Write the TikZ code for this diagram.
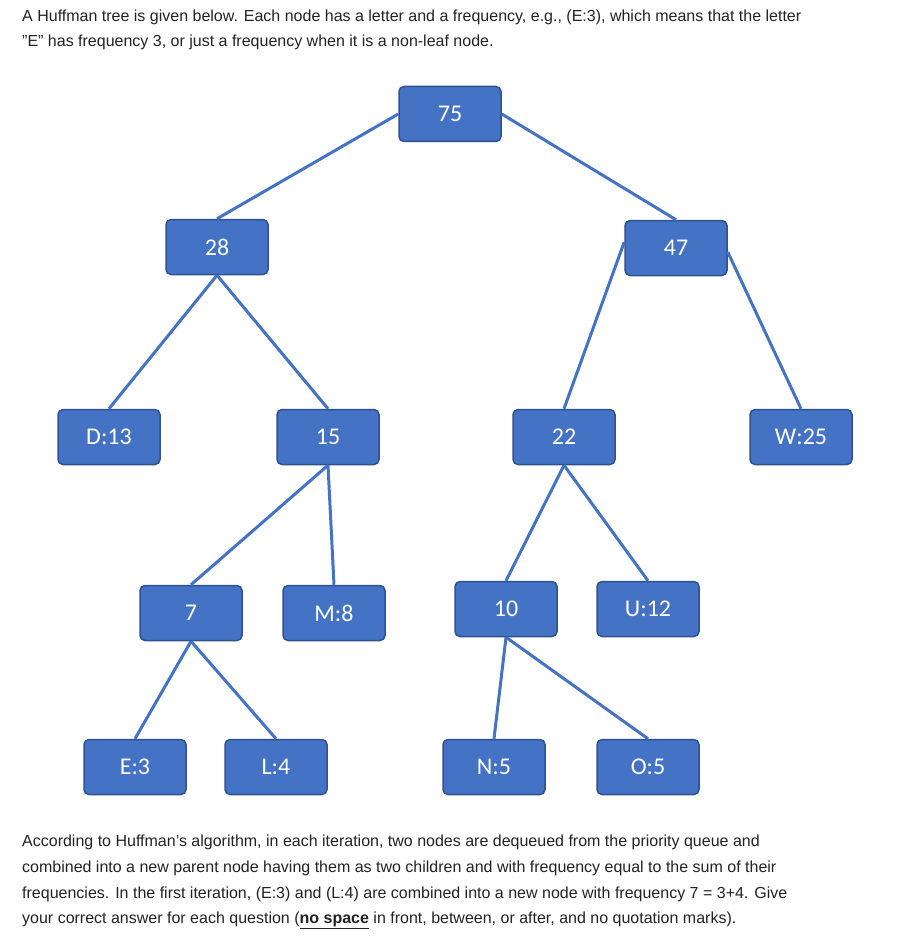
\documentclass[tikz,border=0pt]{standalone}
\usepackage{fontspec}
\setmainfont{Liberation Sans}
\newfontfamily\calib{Carlito}
\definecolor{nfill}{HTML}{4472C4}
\definecolor{nedge}{HTML}{2F528F}
\definecolor{txt}{HTML}{222222}
\begin{document}
\begin{tikzpicture}[x=1pt,y=-1pt,
  tn/.style={draw=nedge,line width=1.5pt,fill=nfill,rounded corners=5pt,minimum width=102pt,minimum height=55pt,inner sep=0pt,text=white,font=\calib\fontsize{24}{24}\selectfont},
  ed/.style={draw=nfill,line width=3pt},
  tl/.style={anchor=west,inner sep=0pt,text=txt,font=\fontsize{16}{16}\selectfont}]
\useasboundingbox (0,0) rectangle (904,944);
\node[tl] (t1) at (22,17) {A Huffman tree is given below. Each node has a letter and a frequency, e.g., (E:3), which means that the letter};
\node[tl] (t2) at (22,42) {"E" has frequency 3, or just a frequency when it is a non-leaf node.};
\node[tl] (b1) at (22,842) {According to Huffman's algorithm, in each iteration, two nodes are dequeued from the priority queue and};
\node[tl] (b2) at (22,868) {combined into a new parent node having them as two children and with frequency equal to the sum of their};
\node[tl] (b3) at (22,894) {frequencies. In the first iteration, (E:3) and (L:4) are combined into a new node with frequency 7 = 3+4. Give};
\node[tl] (b4) at (22,920) {your correct answer for each question (\underline{\textbf{no space}} in front, between, or after, and no quotation marks).};
\node[tn] (n75) at (450,114) {75};
\node[tn] (n28) at (217,247) {28};
\node[tn] (n47) at (676,248) {47};
\node[tn] (nD) at (109,437) {D:13};
\node[tn] (n15) at (328,437) {15};
\node[tn] (n22) at (564,437) {22};
\node[tn] (nW) at (801,437) {W:25};
\node[tn] (n7) at (191,613) {7};
\node[tn] (nM) at (334,613) {M:8};
\node[tn] (n10) at (506,609) {10};
\node[tn] (nU) at (648,609) {U:12};
\node[tn] (nE) at (135,767) {E:3};
\node[tn] (nL) at (276,767) {L:4};
\node[tn] (nN) at (494,767) {N:5};
\node[tn] (nO) at (648,767) {O:5};
\begin{scope}[on background layer/.style={}]
\end{scope}
\draw[ed] (n75.west) -- (n28.north);
\draw[ed] (n75.east) -- (n47.north);
\draw[ed] (n28.south) -- (nD.north);
\draw[ed] (n28.south) -- (n15.north);
\draw[ed] ([yshift=6pt]n47.west) -- (n22.north);
\draw[ed] ([yshift=-4pt]n47.east) -- (nW.north);
\draw[ed] (n15.south) -- (n7.north);
\draw[ed] (n15.south) -- (nM.north);
\draw[ed] (n22.south) -- (n10.north);
\draw[ed] (n22.south) -- (nU.north);
\draw[ed] (n7.south) -- (nE.north);
\draw[ed] (n7.south) -- (nL.north);
\draw[ed] (n10.south) -- (nN.north);
\draw[ed] (n10.south) -- (nO.north);
\end{tikzpicture}
\end{document}
